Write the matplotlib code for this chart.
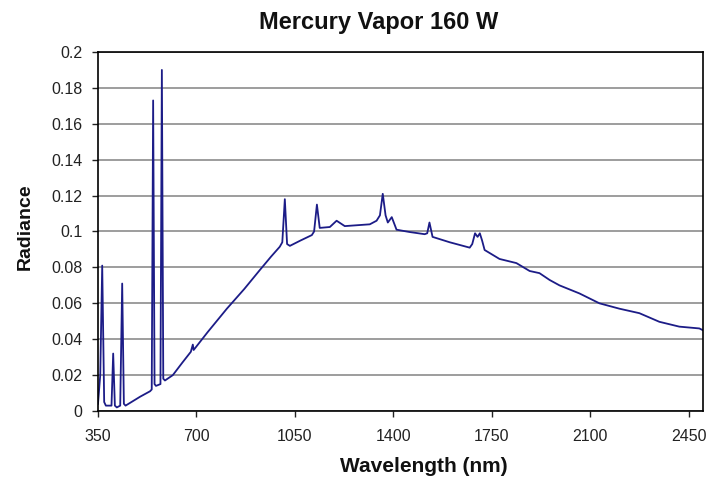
import numpy as np
import matplotlib.pyplot as plt

# Spectrum (wavelength in nm, radiance)
wavelength = [350, 358, 365, 372, 378, 398, 404, 410, 417, 429, 436, 442, 448,
              500, 535, 541, 546, 551, 556, 572, 577, 582, 588, 616, 650,
              680, 687, 690, 740, 808, 870, 925, 965, 996, 1005, 1014, 1022,
              1032, 1070, 1110, 1118, 1128, 1138, 1174, 1198, 1227, 1316,
              1340, 1352, 1362, 1372, 1380, 1394, 1411, 1458, 1511, 1520,
              1528, 1539, 1600, 1671, 1680, 1690, 1699, 1707, 1715, 1724,
              1777, 1837, 1884, 1919, 1955, 1990, 2061, 2132, 2203, 2274,
              2345, 2416, 2487, 2500]
radiance = [0.004, 0.02, 0.081, 0.005, 0.003, 0.003, 0.032, 0.003, 0.002, 0.003,
            0.071, 0.004, 0.003, 0.008, 0.011, 0.012, 0.173, 0.015, 0.014,
            0.015, 0.190, 0.018, 0.017, 0.020, 0.027, 0.033, 0.037, 0.034,
            0.044, 0.057, 0.068, 0.0785, 0.086, 0.0915, 0.094, 0.118, 0.093,
            0.092, 0.095, 0.098, 0.100, 0.115, 0.102, 0.1025, 0.106, 0.103,
            0.104, 0.106, 0.109, 0.121, 0.109, 0.105, 0.108, 0.101, 0.0997,
            0.0985, 0.099, 0.105, 0.097, 0.094, 0.091, 0.093, 0.099, 0.097,
            0.099, 0.095, 0.0897, 0.0847, 0.0824, 0.078, 0.0768, 0.073, 0.070,
            0.0655, 0.060, 0.057, 0.0545, 0.0497, 0.047, 0.046, 0.045]

x_ticks = [350, 700, 1050, 1400, 1750, 2100, 2450]
y_ticks = [0, 0.02, 0.04, 0.06, 0.08, 0.1, 0.12, 0.14, 0.16, 0.18, 0.2]
y_labels = ["0", "0.02", "0.04", "0.06", "0.08", "0.1", "0.12", "0.14",
            "0.16", "0.18", "0.2"]

plt.rcParams['font.family'] = ['Liberation Sans', 'DejaVu Sans']

fig = plt.figure(figsize=(7.07, 4.84), dpi=100)
ax = fig.add_axes([0.1386, 0.1508, 0.8557, 0.7418])

ax.plot(wavelength, radiance, color="#1c1c87", linewidth=1.3)

ax.set_xlim(350, 2500)
ax.set_ylim(0, 0.2)
ax.set_xticks(x_ticks)
ax.set_yticks(y_ticks)
ax.set_yticklabels(y_labels)
ax.tick_params(direction="out", length=4, width=1, labelsize=11.5,
               colors="#222222")
ax.tick_params(axis="x", pad=9)
ax.tick_params(axis="y", pad=7)
ax.grid(True, axis="y", color="#8c8c8c", linewidth=1.2)
ax.set_axisbelow(True)
for s in ax.spines.values():
    s.set_linewidth(1.2)

# Title and axis labels placed where the reference has them
fig.text(0.536, 0.9545, "Mercury Vapor 160 W", fontsize=17,
         fontweight="bold", ha="center", va="center", color="#111111")
fig.text(0.600, 0.037, "Wavelength (nm)", fontsize=15, fontweight="bold",
         ha="center", va="center", color="#111111")
fig.text(0.036, 0.531, "Radiance", fontsize=14, fontweight="bold",
         ha="center", va="center", rotation=90, color="#111111")

fig.savefig("out.png", dpi=100)
